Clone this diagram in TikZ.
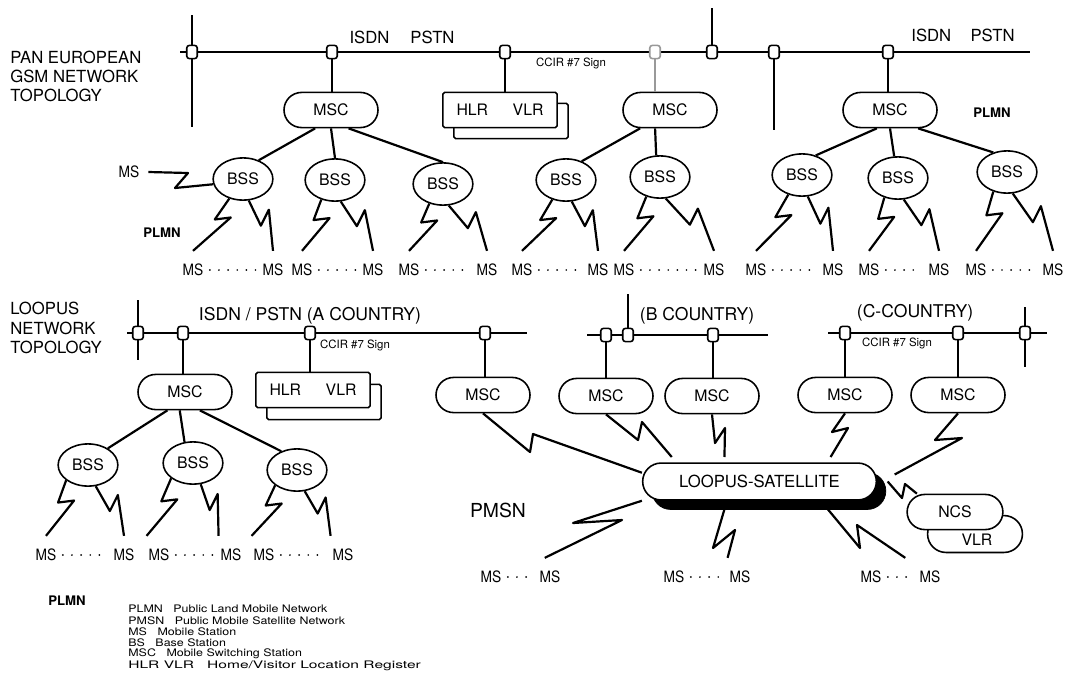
\documentclass[tikz,border=0pt]{standalone}
\usepackage{fontspec}
\setmainfont{TeX Gyre Heros}
\newfontfamily\legfont[FakeStretch=1.2]{TeX Gyre Heros}
\newfontfamily\msfont[FakeStretch=0.88]{TeX Gyre Heros}
\usetikzlibrary{shapes.geometric,calc}
\newcommand\boltz[5]{\draw[link] (#1) -- ($(#1)!#3!(#2)$) -- ++(#4,#5) -- (#2);}
\begin{document}
\begin{tikzpicture}[x=0.02cm,y=-0.02cm,
 link/.style={line width=1.25pt, line join=round},
 bus/.style={line width=1.5pt},
 faint/.style={line width=0.8pt, draw=black!40},
 jn/.style={draw, fill=white, line width=0.9pt, rectangle, rounded corners=1.5pt, minimum width=6pt, minimum height=7.5pt, inner sep=0pt},
 msc/.style={draw, fill=white, line width=0.9pt, rectangle, rounded corners=10pt, minimum width=53.5pt, minimum height=20pt, inner sep=0pt, font=\fontsize{9}{9}\selectfont},
 bss/.style={draw, fill=white, line width=0.9pt, ellipse, minimum width=34pt, minimum height=24pt, inner sep=0pt, font=\fontsize{9}{9}\selectfont},
 hlrbox/.style={draw, fill=white, line width=0.9pt, rectangle, rounded corners=1pt, minimum width=65pt, minimum height=20pt, inner sep=0pt, font=\fontsize{9}{9}\selectfont},
 msl/.style={font=\msfont\fontsize{8.9}{8.9}\selectfont, inner sep=1pt, outer ysep=6.5pt},
 msdots/.style={line width=1.1pt, line cap=round, dash pattern=on 0pt off 5.2pt, shorten <=2.5pt, shorten >=2.5pt},
 lbl/.style={font=\fontsize{9.5}{9.5}\selectfont, inner sep=0pt},
 small/.style={font=\fontsize{6.5}{6.5}\selectfont, inner sep=0pt},
 plmn/.style={font=\fontsize{7.5}{7.5}\selectfont\bfseries, inner sep=0pt},
 leg/.style={font=\legfont\fontsize{5.9}{5.9}\selectfont, inner sep=0pt, anchor=west}
]
\fill[white] (0,0) rectangle (1067,697);
\path[use as bounding box] (0,0) rectangle (1067,697);

% ================= TOP: PAN EUROPEAN =================
\node[lbl, align=left, anchor=west, font=\fontsize{9.5}{10.8}\selectfont] (ttl1) at (10,76) {PAN EUROPEAN\\GSM NETWORK\\TOPOLOGY};

\coordinate (tbL) at (180,52); \coordinate (tbR) at (1030,52);
\coordinate (tv1a) at (192,15); \coordinate (tv1b) at (192,127);
\coordinate (tv5) at (712,8); \coordinate (tv6) at (774,130);
\draw[bus] (tbL) -- (tbR);
\draw[bus] (tv1a) -- (tv1b);
\draw[bus] (tv5) -- (712,52);
\draw[bus] (774,52) -- (tv6);

\node[jn] (jt1) at (192,52) {};
\node[jn] (jt2) at (332,52) {};
\node[jn] (jt3) at (505,52) {};
\node[jn, draw=black!40] (jt4) at (655,52) {};
\node[jn] (jt5) at (712,52) {};
\node[jn] (jt6) at (774,52) {};
\node[jn] (jt7) at (888,52) {};

\node[lbl] (isdn1) at (402,37) {ISDN\hspace{12pt}PSTN};
\node[lbl] (isdn2) at (963,35) {ISDN\hspace{11pt}PSTN};
\node[small] (ccir1) at (571,63) {CCIR \#7 Sign};

\node[msc] (msc1) at (331,110) {MSC};
\node[msc] (msc2) at (670,110) {MSC};
\node[msc] (msc3) at (890,110) {MSC};
\node[hlrbox] (hlrS) at (511,121) {};
\node[hlrbox] (hlr) at (500,110) {HLR\hspace{14pt}VLR};
\node[plmn] (plmn1) at (992,113) {PLMN};

\draw[link] (jt2) -- (jt2 |- msc1.north);
\draw[link] (jt3) -- (jt3 |- hlr.north);
\draw[faint] (jt4) -- (jt4 |- msc2.north);
\draw[link] (jt7) -- (jt7 |- msc3.north);

\node[bss] (bss1) at (243,179) {BSS};
\node[bss] (bss2) at (335,180) {BSS};
\node[bss] (bss3) at (443,184) {BSS};
\node[bss] (bss4) at (566,180) {BSS};
\node[bss] (bss5) at (660,177) {BSS};
\node[bss] (bss6) at (802,175) {BSS};
\node[bss] (bss7) at (898,178) {BSS};
\node[bss] (bss8) at (1007,172) {BSS};

\draw[link] ([xshift=-9pt]msc1.south) -- (bss1.50);
\draw[link] (msc1.south) -- (bss2.north);
\draw[link] ([xshift=10pt]msc1.south) -- (bss3.north);
\draw[link] ([xshift=-17pt]msc2.south) -- (bss4.50);
\draw[link] ([xshift=-8.5pt]msc2.south) -- (bss5.100);
\draw[link] ([xshift=-7.5pt]msc3.south) -- (bss6.55);
\draw[link] (msc3.south) -- (bss7.100);
\draw[link] ([xshift=16pt]msc3.south) -- (bss8.125);

\node[msl] (ms0) at (129,172) {MS};
\draw[link] ([xshift=4pt]ms0.east) -- (188,173) -- (175,188) -- (bss1.190);
\node[plmn] (plmn2) at (162,233) {PLMN};

\foreach \n/\a/\b in {1/193/273, 2/302/373, 3/409/487, 4/522/598, 5/624/714, 6/756/833, 7/869/939, 8/976/1053}{
  \node[msl] (ms\n a) at (\a,270) {MS};
  \node[msl] (ms\n b) at (\b,270) {MS};
  \draw[msdots] (ms\n a.east) -- (ms\n b.west);
}
\foreach \n in {1,...,8}{
  \boltz{bss\n.235}{ms\n a.north}{0.4}{16}{-2}
  \boltz{bss\n.285}{ms\n b.north}{0.5}{8}{-16}
}

% ================= BOTTOM: LOOPUS =================
\node[lbl, align=left, anchor=west, font=\fontsize{9.5}{11.3}\selectfont] (ttl2) at (10,328) {LOOPUS\\NETWORK\\TOPOLOGY};

% bus A
\coordinate (baL) at (127,333); \coordinate (baR) at (527,333);
\coordinate (bav1) at (138,300); \coordinate (bav2) at (138,360);
\draw[bus] (baL) -- (baR);
\draw[bus] (bav1) -- (bav2);
\node[jn] (jA1) at (138,333) {};
\node[jn] (jA2) at (183,333) {};
\node[jn] (jA3) at (310,333) {};
\node[jn] (jA4) at (485,333) {};
\node[lbl, font=\fontsize{10}{10}\selectfont] (isdnA) at (310,316) {ISDN / PSTN (A COUNTRY)};
\node[small] (ccirA) at (355,345) {CCIR \#7 Sign};

% bus B
\coordinate (bbL) at (587,335); \coordinate (bbR) at (768,335);
\coordinate (bbv) at (628,294);
\draw[bus] (bbL) -- (bbR);
\draw[bus] (bbv) -- (628,335);
\node[jn] (jB1) at (606,335) {};
\node[jn] (jB2) at (628,335) {};
\node[jn] (jB3) at (713,335) {};
\node[lbl, font=\fontsize{10}{10}\selectfont] (cB) at (697,316) {(B COUNTRY)};

% bus C
\coordinate (bcL) at (828,333); \coordinate (bcR) at (1047,333);
\coordinate (bcv1) at (1025,307); \coordinate (bcv2) at (1025,367);
\draw[bus] (bcL) -- (bcR);
\draw[bus] (bcv1) -- (bcv2);
\node[jn] (jC1) at (845,333) {};
\node[jn] (jC2) at (958,333) {};
\node[jn] (jC3) at (1025,333) {};
\node[lbl, font=\fontsize{10}{10}\selectfont] (cC) at (915,313) {(C-COUNTRY)};
\node[small] (ccirC) at (897,343) {CCIR \#7 Sign};

\node[msc] (mscA1) at (185,392) {MSC};
\node[hlrbox] (hlrAS) at (324,402) {};
\node[hlrbox] (hlrA) at (313,390) {HLR\hspace{14pt}VLR};
\node[msc] (mscA2) at (483,395) {MSC};
\node[msc] (mscB1) at (606,396) {MSC};
\node[msc] (mscB2) at (712,396) {MSC};
\node[msc] (mscC1) at (845,395) {MSC};
\node[msc] (mscC2) at (958,395) {MSC};

\draw[link] (jA2) -- (jA2 |- mscA1.north);
\draw[link] (jA3) -- (jA3 |- hlrA.north);
\draw[link] (jA4) -- (jA4 |- mscA2.north);
\draw[link] (jB1) -- (jB1 |- mscB1.north);
\draw[link] (jB3) -- (jB3 |- mscB2.north);
\draw[link] (jC1) -- (jC1 |- mscC1.north);
\draw[link] (jC2) -- (jC2 |- mscC2.north);

\node[bss] (bssA1) at (88,465) {BSS};
\node[bss] (bssA2) at (193,463) {BSS};
\node[bss] (bssA3) at (297,470) {BSS};
\draw[link] ([xshift=-10pt]mscA1.south) -- (bssA1.40);
\draw[link] ([xshift=-3pt]mscA1.south) -- (bssA2.112);
\draw[link] ([xshift=8.5pt]mscA1.south) -- (bssA3.130);

\foreach \n/\a/\b in {1/46/124, 2/159/231, 3/264/343}{
  \node[msl] (msA\n a) at (\a,555) {MS};
  \node[msl] (msA\n b) at (\b,555) {MS};
  \draw[msdots] (msA\n a.east) -- (msA\n b.west);
}
\boltz{bssA1.215}{msA1a.north}{0.4}{16}{-2}
\boltz{bssA1.290}{msA1b.north}{0.5}{8}{-16}
\boltz{bssA2.215}{msA2a.north west}{0.4}{16}{-2}
\boltz{bssA2.290}{msA2b.north west}{0.5}{8}{-16}
\boltz{bssA3.215}{msA3a.north west}{0.4}{16}{-2}
\boltz{bssA3.290}{msA3b.north west}{0.5}{8}{-16}
\node[plmn] (plmn3) at (67,601) {PLMN};

% satellite
\node[draw, fill=black, rectangle, rounded corners=10.5pt, minimum width=133pt, minimum height=21pt] (satS) at (769,491) {};
\node[draw, fill=white, line width=0.9pt, rectangle, rounded corners=10.5pt, minimum width=133pt, minimum height=21pt, inner sep=0pt, font=\fontsize{9.5}{9.5}\selectfont] (sat) at (759.5,481.5) {LOOPUS-SATELLITE};

\node[draw, fill=white, line width=0.9pt, rectangle, rounded corners=10.5pt, minimum width=54pt, minimum height=21pt] (vlr) at (975,534) {};
\node[font=\fontsize{9}{9}\selectfont, inner sep=0pt] (vlrtxt) at (977,540) {VLR};
\node[msc, minimum width=54.5pt] (ncs) at (955,512) {NCS};

\node[font=\fontsize{11}{11}\selectfont, inner sep=0pt] (pmsn) at (498,510) {PMSN};

\draw[link] (mscA2.south) -- (530,452) -- (533,434) -- ([yshift=5pt]sat.west);
\draw[link] (mscB1.south) -- (638,440) -- (642,422) -- ([xshift=17pt,yshift=3pt]sat.north west);
\draw[link] (mscB2.south) -- (715,443) -- (725,428) -- ([xshift=47pt,yshift=3pt]sat.north west);
\draw[link] (mscC1.south) -- (832,432) -- (848,428) -- ([xshift=-26.5pt,yshift=3pt]sat.north east);
\draw[link] (mscC2.south) -- (935,440) -- (962,438) -- ([xshift=10pt,yshift=4pt]sat.east);
\draw[link] ([xshift=6pt]sat.east) -- (902,498) -- (905,484) -- ([xshift=6pt]ncs.north west);

\foreach \n/\a/\b in {1/491/550, 2/674/740, 3/871/930}{
  \node[msl] (msR\n a) at (\a,577) {MS};
  \node[msl] (msR\n b) at (\b,577) {MS};
  \draw[msdots] (msR\n a.east) -- (msR\n b.west);
}
\draw[link] (sat.south west) -- (573,523) -- (622,520) -- ([xshift=-3pt]msR1b.north);
\draw[link] ([xshift=-20pt,yshift=-5pt]sat.south) -- (713,548) -- (735,530) -- (msR2b.north west);
\draw[link] ([xshift=39pt,yshift=-5pt]sat.south) -- (860,548) -- (857,525) -- ([xshift=-7pt]msR3b.north west);

% legend
\node[leg] (l1) at (128,609) {PLMN\hspace{6pt}Public Land Mobile Network};
\node[leg] (l2) at (128,621) {PMSN\hspace{6pt}Public Mobile Satellite Network};
\node[leg] (l3) at (128,632) {MS\hspace{6pt}Mobile Station};
\node[leg] (l4) at (128,643) {BS\hspace{6pt}Base Station};
\node[leg] (l5) at (128,654) {MSC\hspace{6pt}Mobile Switching Station};
\node[leg] (l6) at (128,666) {\scalebox{1.25}[1]{HLR VLR\hspace{6pt}Home/Visitor Location Register}};
\end{tikzpicture}
\end{document}
